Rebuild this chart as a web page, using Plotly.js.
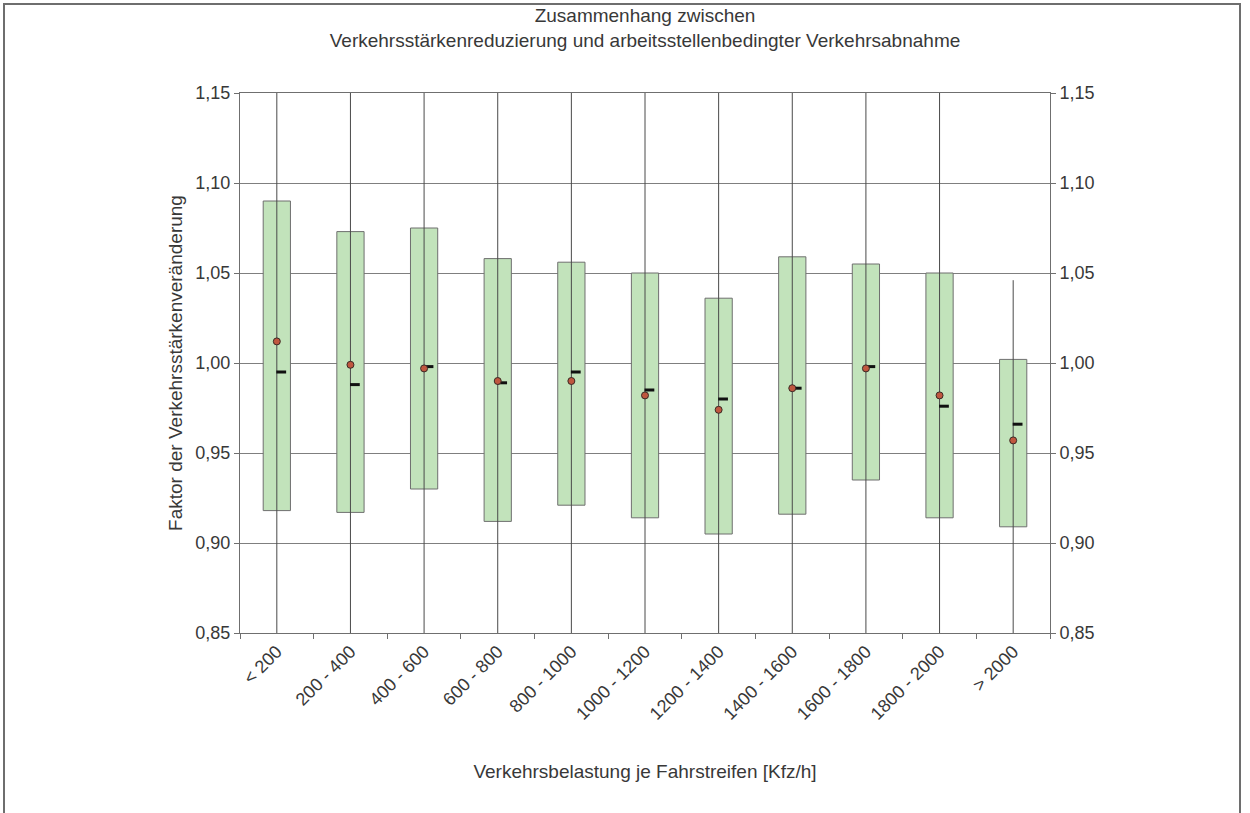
<!DOCTYPE html>
<html>
<head>
<meta charset="utf-8">
<script src="https://cdn.plot.ly/plotly-3.0.1.min.js"></script>
<style>
  html, body { margin: 0; padding: 0; background: #fff; }
  #wrap { position: relative; width: 1250px; height: 813px; overflow: hidden; }
  #chart { width: 1250px; height: 813px; }
  #frame { position: absolute; left: 3px; top: 3px; width: 1238px; height: 830px;
           border: 2px solid #6e6e6e; box-sizing: border-box; pointer-events: none; }
</style>
</head>
<body>
<div id="wrap">
  <div id="chart"></div>
  <div id="frame"></div>
</div>
<script>
// Categories (traffic load per lane, Kfz/h)
const categories = ['< 200', '200 - 400', '400 - 600', '600 - 800', '800 - 1000',
  '1000 - 1200', '1200 - 1400', '1400 - 1600', '1600 - 1800', '1800 - 2000', '> 2000'];

// Box (green bar) lower and upper bounds
const boxLow  = [0.918, 0.917, 0.930, 0.912, 0.921, 0.914, 0.905, 0.916, 0.935, 0.914, 0.909];
const boxHigh = [1.090, 1.073, 1.075, 1.058, 1.056, 1.050, 1.036, 1.059, 1.055, 1.050, 1.002];

// Whisker (min / max) – most lie beyond the visible axis range
const whiskerLow  = [0.80, 0.80, 0.80, 0.80, 0.80, 0.80, 0.80, 0.80, 0.80, 0.80, 0.80];
const whiskerHigh = [1.20, 1.20, 1.20, 1.20, 1.20, 1.20, 1.20, 1.20, 1.20, 1.20, 1.046];

// Mean (red dots) and median (black dashes)
const meanVals   = [1.012, 0.999, 0.997, 0.990, 0.990, 0.982, 0.974, 0.986, 0.997, 0.982, 0.957];
const medianVals = [0.995, 0.988, 0.998, 0.989, 0.995, 0.985, 0.980, 0.986, 0.998, 0.976, 0.966];

// Y ticks
const yTicks = [0.85, 0.90, 0.95, 1.00, 1.05, 1.10, 1.15];
const yTickText = ['0,85', '0,90', '0,95', '1,00', '1,05', '1,10', '1,15'];

const idx = categories.map((c, i) => i);

const boxes = {
  type: 'bar',
  x: idx,
  base: boxLow,
  y: boxHigh.map((h, i) => h - boxLow[i]),
  width: 0.37,
  marker: { color: '#c2e3bb', line: { color: '#6f6f6f', width: 1 } },
  hoverinfo: 'skip',
  showlegend: false
};

const wx = [], wy = [];
idx.forEach(i => { wx.push(i, i, null); wy.push(whiskerLow[i], whiskerHigh[i], null); });
const whiskers = {
  type: 'scatter', mode: 'lines', x: wx, y: wy,
  line: { color: '#4a4a4a', width: 1 },
  hoverinfo: 'skip', showlegend: false, cliponaxis: true
};

const medians = {
  type: 'scatter', mode: 'markers',
  x: idx.map(i => i + 0.06), y: medianVals,
  marker: { symbol: 'line-ew', size: 7, line: { color: '#111', width: 3 } },
  hoverinfo: 'skip', showlegend: false
};

const means = {
  type: 'scatter', mode: 'markers',
  x: idx, y: meanVals,
  marker: { symbol: 'circle', size: 7, color: '#c0573f', line: { color: '#3a2a25', width: 1 } },
  hoverinfo: 'skip', showlegend: false
};

const rightDummy = {
  type: 'scatter', mode: 'markers', x: [0], y: [1.0], yaxis: 'y2',
  marker: { opacity: 0 }, hoverinfo: 'skip', showlegend: false
};

const fontFam = '"Liberation Sans", Arial, sans-serif';
const fs = 18;
const ft = 19;
const textCol = '#383838';

const layout = {
  width: 1250, height: 813,
  paper_bgcolor: '#fff', plot_bgcolor: '#fff',
  margin: { l: 240, r: 200, t: 93, b: 180 },
  font: { family: fontFam, size: fs, color: textCol },
  title: {
    text: 'Zusammenhang zwischen<br>Verkehrsstärkenreduzierung und arbeitsstellenbedingter Verkehrsabnahme',
    font: { family: fontFam, size: ft, color: textCol },
    x: 0.5, xanchor: 'center', xref: 'paper',
    yref: 'container', y: 1 - 22 / 813, yanchor: 'middle'
  },
  xaxis: {
    range: [-0.5, categories.length - 0.5],
    tickvals: idx, ticktext: categories,
    tickangle: -45, ticks: '', showgrid: false, zeroline: false,
    showline: true, linecolor: '#6f6f6f', linewidth: 1, mirror: true,
    minor: { ticks: 'outside', ticklen: 5, tickcolor: '#6f6f6f', tick0: -0.5, dtick: 1, showgrid: false },
    tickfont: { size: fs, color: textCol },
    title: { text: 'Verkehrsbelastung je Fahrstreifen [Kfz/h]', standoff: 41,
             font: { size: ft, color: textCol } },
    fixedrange: true
  },
  yaxis: {
    range: [0.85, 1.15], tickvals: yTicks, ticktext: yTickText,
    showgrid: true, gridcolor: '#7f7f7f', gridwidth: 1, zeroline: false,
    showline: true, linecolor: '#6f6f6f', linewidth: 1,
    ticks: 'outside', ticklen: 5, tickcolor: '#6f6f6f',
    tickfont: { size: fs, color: textCol },
    title: { text: 'Faktor der Verkehrsstärkenveränderung', standoff: 7,
             font: { size: ft, color: textCol } },
    fixedrange: true
  },
  yaxis2: {
    overlaying: 'y', side: 'right',
    range: [0.85, 1.15], tickvals: yTicks, ticktext: yTickText,
    showgrid: false, zeroline: false,
    showline: true, linecolor: '#6f6f6f', linewidth: 1,
    ticks: 'outside', ticklen: 5, tickcolor: '#6f6f6f',
    tickfont: { size: fs, color: textCol },
    fixedrange: true
  },
  bargap: 0
};

Plotly.newPlot('chart', [boxes, whiskers, medians, means, rightDummy], layout,
  { displayModeBar: false, staticPlot: true });
</script>
</body>
</html>
